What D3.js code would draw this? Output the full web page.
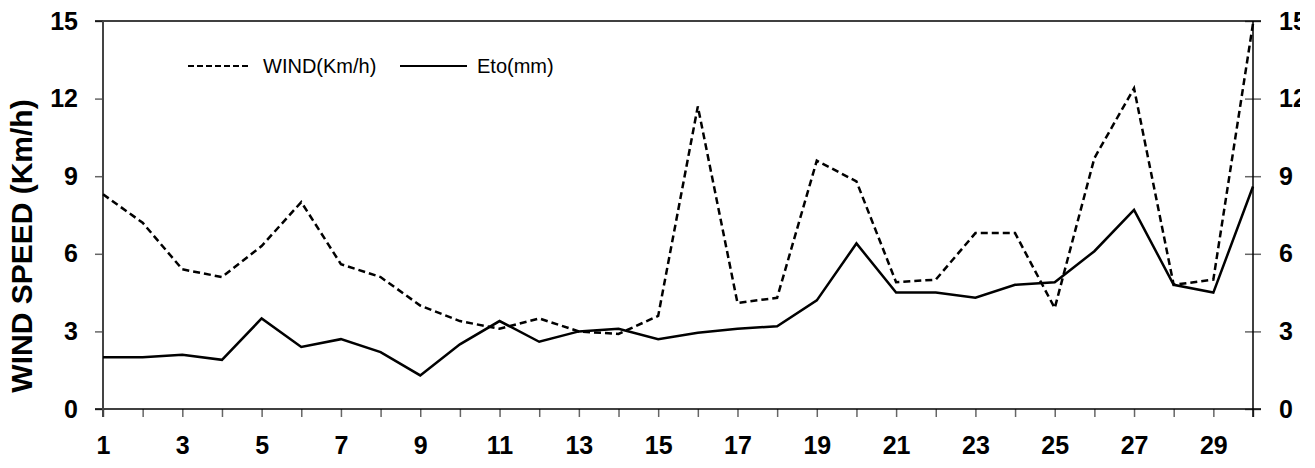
<!DOCTYPE html>
<html>
<head>
<meta charset="utf-8">
<script src="https://cdnjs.cloudflare.com/ajax/libs/d3/7.8.5/d3.min.js"></script>
<style>
  body { margin: 0; background: #fff; }
  svg { display: block; font-family: Arial, "Liberation Sans", sans-serif; }
</style>
</head>
<body>
<svg id="chart" width="1315" height="468"></svg>
<script>
// day of month
var days = d3.range(1, 31);

// wind speed, Km/h (dashed)
var wind = [8.3, 7.2, 5.4, 5.1, 6.3, 8.0, 5.6, 5.1, 4.0, 3.4,
            3.1, 3.5, 3.0, 2.9, 3.6, 11.7, 4.1, 4.3, 9.6, 8.8,
            4.9, 5.0, 6.8, 6.8, 3.9, 9.7, 12.4, 4.8, 5.0, 14.9];

// reference evapotranspiration, mm (solid)
var eto = [2.0, 2.0, 2.1, 1.9, 3.5, 2.4, 2.7, 2.2, 1.3, 2.5,
           3.4, 2.6, 3.0, 3.1, 2.7, 2.95, 3.1, 3.2, 4.2, 6.4,
           4.5, 4.5, 4.3, 4.8, 4.9, 6.1, 7.7, 4.8, 4.5, 8.6];

var yTicks = [0, 3, 6, 9, 12, 15];
var seriesNames = ["WIND(Km/h)", "Eto(mm)"];

var svg = d3.select('#chart');

var x = d3.scaleLinear().domain([1, 30]).range([103, 1253]);
var y = d3.scaleLinear().domain([0, 15]).range([409, 21]);

// clip for the right labels, the original image cuts them off
svg.append('defs').append('clipPath').attr('id', 'clipR')
  .append('rect').attr('x', 0).attr('y', 0).attr('width', 1300).attr('height', 468);

// left axis
var gLeft = svg.append('g')
  .attr('transform', 'translate(' + x(1) + ',0)')
  .call(d3.axisLeft(y).tickValues(yTicks).tickSize(8).tickSizeOuter(0).tickPadding(17));

// right axis
var gRight = svg.append('g')
  .attr('clip-path', 'url(#clipR)')
  .append('g')
  .attr('transform', 'translate(' + x(30) + ',0)')
  .call(d3.axisRight(y).tickValues(yTicks).tickSize(8).tickSizeOuter(0).tickPadding(18));
gRight.selectAll('.tick line').attr('x1', -8);

// bottom axis
var gBottom = svg.append('g')
  .attr('transform', 'translate(0,' + y(0) + ')')
  .call(d3.axisBottom(x).tickValues(days).tickSize(8).tickSizeOuter(0).tickPadding(19)
    .tickFormat(function(d) { return d % 2 ? d : ''; }));

[gLeft, gRight, gBottom].forEach(function(g) {
  g.select('.domain').remove();
  g.selectAll('.tick line').attr('stroke', '#666').attr('stroke-width', 1.5);
  g.selectAll('.tick text')
    .attr('fill', '#000')
    .style('font-size', '25px')
    .style('font-weight', 'bold')
    .style('font-family', 'Arial, "Liberation Sans", sans-serif');
});

// frame
var x0 = x(1) - 8, x1 = x(30) + 8;
svg.append('line').attr('x1', x0).attr('x2', x1).attr('y1', y(15)).attr('y2', y(15))
  .attr('stroke', '#000').attr('stroke-width', 1.5);
svg.append('line').attr('x1', x0).attr('x2', x1).attr('y1', y(0)).attr('y2', y(0))
  .attr('stroke', '#000').attr('stroke-width', 1.5);
svg.append('line').attr('x1', x(1)).attr('x2', x(1)).attr('y1', y(15)).attr('y2', y(0) + 8)
  .attr('stroke', '#444').attr('stroke-width', 2);
svg.append('line').attr('x1', x(30)).attr('x2', x(30)).attr('y1', y(15)).attr('y2', y(0) + 8)
  .attr('stroke', '#000').attr('stroke-width', 1.5);

// lines
var line = d3.line()
  .x(function(d, i) { return x(days[i]); })
  .y(function(d) { return y(d); });

svg.append('path').datum(wind)
  .attr('d', line)
  .attr('fill', 'none')
  .attr('stroke', '#000')
  .attr('stroke-width', 2.5)
  .attr('stroke-dasharray', '7,4');

svg.append('path').datum(eto)
  .attr('d', line)
  .attr('fill', 'none')
  .attr('stroke', '#000')
  .attr('stroke-width', 2.5);

// y title
svg.append('text')
  .attr('transform', 'translate(32,246) rotate(-90)')
  .attr('text-anchor', 'middle')
  .style('font-size', '30px')
  .style('font-weight', 'bold')
  .text('WIND SPEED (Km/h)');

// legend
var legend = svg.append('g');
legend.append('line').attr('x1', 188).attr('x2', 250).attr('y1', 66).attr('y2', 66)
  .attr('stroke', '#000').attr('stroke-width', 2).attr('stroke-dasharray', '6,3');
legend.append('text').attr('x', 263).attr('y', 66).attr('dy', '0.35em')
  .style('font-size', '20px').text(seriesNames[0]);
legend.append('line').attr('x1', 400).attr('x2', 467).attr('y1', 66).attr('y2', 66)
  .attr('stroke', '#000').attr('stroke-width', 2);
legend.append('text').attr('x', 477).attr('y', 66).attr('dy', '0.35em')
  .style('font-size', '20px').text(seriesNames[1]);
</script>
</body>
</html>
